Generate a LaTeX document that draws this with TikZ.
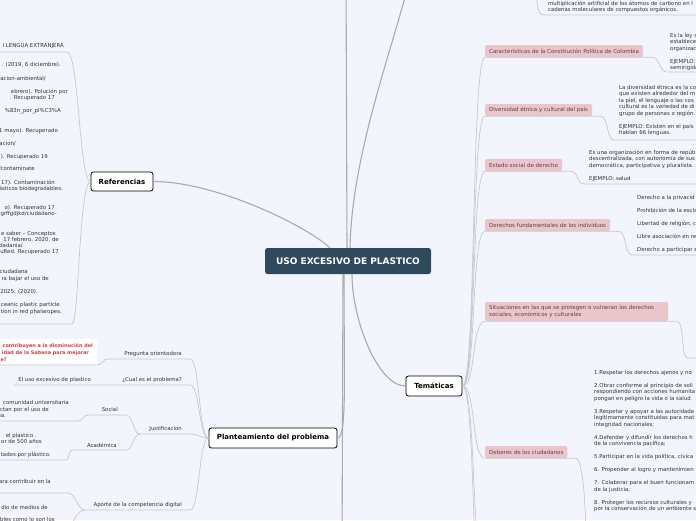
\documentclass[tikz,border=0pt]{standalone}
\usepackage{fontspec}
\setmainfont{DejaVu Sans}
\definecolor{BgBlue}{HTML}{F3F5FD}
\definecolor{MainFill}{HTML}{2F4A5C}
\definecolor{PinkFill}{HTML}{E8C6CC}
\definecolor{PinkText}{HTML}{6E3A40}
\definecolor{LineMain}{HTML}{ABABAB}
\definecolor{LineSub}{HTML}{C8C8CE}
\definecolor{TxtGray}{HTML}{333333}
\definecolor{QRed}{HTML}{D23B3B}

\begin{document}
\begin{tikzpicture}[x=1pt, y=-1pt,
	Main/.style={fill=MainFill, rounded corners=2.5pt, text=white,
		font=\fontsize{9}{11}\selectfont\bfseries, minimum width=166pt,
		minimum height=26pt, inner sep=0pt},
	Topic/.style={draw=black, fill=white, line width=0.8pt, rounded corners=2.5pt,
		font=\fontsize{7}{8}\selectfont\bfseries, minimum height=20pt, inner sep=0pt},
	Pink/.style={fill=PinkFill, rounded corners=1.5pt, text=PinkText,
		font=\fontsize{5.5}{6.5}\selectfont, minimum height=12pt, inner xsep=4pt,
		inner ysep=0pt, anchor=west, align=left},
	Txt/.style={text=TxtGray, font=\fontsize{5.4}{6.5}\selectfont, inner sep=0pt, align=left},
	Frag/.style={Txt, anchor=base east},
	Block/.style={Txt, anchor=north west},
	QTxt/.style={Frag, text=QRed, font=\fontsize{4.9}{6.5}\selectfont\bfseries},
	Link/.style={draw=LineMain, line width=1.1pt},
	SubLink/.style={draw=LineSub, line width=0.7pt},
	]
	\useasboundingbox (0,0) rectangle (696,520);
	\clip (0,0) rectangle (696,520);
	\fill[BgBlue] (0,0) rectangle (696,520);
	
	% main topics
	\node [Main] (root) at (348,261) {USO EXCESIVO DE PLASTICO};
	\node [Topic, minimum width=62pt, minimum height=19pt] (ref) at (122,181.5) {Referencias};
	\node [Topic, minimum width=128pt] (plan) at (273,438) {Planteamiento del problema};
	\node [Topic, minimum width=56pt] (tem) at (434,386) {Temáticas};
	
	\coordinate (upA) at (346,-30);
	\coordinate (upB) at (412,-30);
	\coordinate (downA) at (342,560);
	
	\draw[Link] ([xshift=-18pt]root.north) .. controls (305,225) and (215,181.5) .. (ref.east);
	\draw[Link] ([xshift=-1pt]root.north) -- (upA);
	\draw[Link] ([xshift=2pt]root.north) .. controls (352,150) and (396,40) .. (upB);
	\draw[Link] ([xshift=-4pt]root.south) .. controls (344,380) and (347,438) .. (plan.east);
	\draw[Link] ([xshift=-5pt]root.south) -- (downA);
	\draw[Link] ([xshift=4pt]root.south) .. controls (352,320) and (378,386) .. (tem.west);
	
	% Referencias
	\coordinate (refT) at (67,52);
	\coordinate (refTL) at (-5,52);
	\coordinate (refB) at (72,324);
	\coordinate (refBL) at (-5,324);
	\draw[SubLink] (ref.west) .. controls (79,181.5) and (79,52) .. (refT) -- (refTL);
	\draw[SubLink] (ref.west) .. controls (79,181.5) and (79,324) .. (refB) -- (refBL);
	
	\node [Frag] (r1) at (64,47) {I LENGUA EXTRANJERA};
	\node [Frag] (r2) at (61,66) {. (2019, 6 diciembre).};
	\node [Frag] (r3) at (46,80) {acion-ambiental/};
	\node [Frag] (r4) at (68,93) {ebrero). Polución por};
	\node [Frag] (r5) at (55,99) {. Recuperado 17};
	\node [Frag] (r6) at (61,112) {\%83n\_por\_pl\%C3\%A};
	\node [Frag] (r7) at (58,132) {1 mayo). Recuperado};
	\node [Frag] (r8) at (16,145) {acion/};
	\node [Frag] (r9) at (48,158) {). Recuperado 19};
	\node [Frag] (r10) at (35,170) {/contaminate};
	\node [Frag] (r11) at (55,184) {17). Contaminación};
	\node [Frag] (r12) at (63,190) {ásticos biodegradables.};
	\node [Frag] (r13) at (55,209) {o). Recuperado 17};
	\node [Frag] (r14) at (57,215) {grffgdjkd/ciudadano-};
	\node [Frag] (r15) at (56,235) {e saber – Conceptos};
	\node [Frag] (r16) at (59,241) {17 febrero, 2020, de};
	\node [Frag] (r17) at (23,247) {dadania/};
	\node [Frag] (r18) at (59,253) {cuRed. Recuperado 17};
	\node [Frag] (r19) at (28,273) {3n\_ciudadana};
	\node [Frag] (r20) at (49,280) {ra bajar el uso de};
	\node [Frag] (r21) at (38,293) {2025. (2020).};
	\node [Frag] (r22) at (60,306) {ceanic plastic particle};
	\node [Frag] (r23) at (62,313) {tion in red phalaropes.};
	
	% Planteamiento del problema
	\node [Frag] (preg) at (182,355) {Pregunta orientadora};
	\node [Frag] (prob) at (182,381) {¿Cual es el problema?};
	\node [Frag] (probc) at (91,381) {El uso excesivo de plastico};
	\node [Frag] (just) at (182,430) {Justificacion};
	\node [Frag] (soc) at (118,411) {Social};
	\node [Frag] (acad) at (117,447) {Académica};
	\node [Frag] (apor) at (182,506) {Aporte de la competencia digital};
	
	\node [fill=white, inner sep=0pt, minimum width=110pt, minimum height=26pt,
	anchor=north east] (pregq) at (97,339) {};
	\node [QTxt] (q1) at (93,347) {contribuyen a la disminución del};
	\node [QTxt] (q2) at (89,354) {idad de la Sabana para mejorar};
	\node [QTxt] (q3) at (7,361) {e?};
	
	\node [Frag] (s1) at (69,404) {comunidad universitaria};
	\node [Frag] (s2) at (49,411) {ctan por el uso de};
	\node [Frag] (s3) at (6,417) {ia.};
	
	\node [Frag] (a1) at (37,437) {el plastico .};
	\node [Frag] (a2) at (42,443) {or de 500 años};
	\node [Frag] (a3) at (51,456) {tados por plástico.};
	
	\node [Frag] (p1) at (51,483) {ara contribuir en la};
	\node [Frag] (p2) at (48,509) {dio de medios de};
	\node [Frag] (p3) at (55,521) {bles como lo son los};
	
	\coordinate (pregE) at (190,359);
	\coordinate (pregW) at (108,359);
	\coordinate (pregQE) at (97,365);
	\coordinate (pregQL) at (-5,365);
	\coordinate (probE) at (190,385);
	\coordinate (probL) at (13,385);
	\coordinate (justE) at (190,434);
	\coordinate (justW) at (140,434);
	\coordinate (socE) at (126,415);
	\coordinate (socW) at (88,415);
	\coordinate (socC) at (78,421);
	\coordinate (socL) at (-5,421);
	\coordinate (acadE) at (126,450);
	\coordinate (acadW) at (72,450);
	\coordinate (acadC) at (66,460);
	\coordinate (acadL) at (-5,460);
	\coordinate (aporE) at (190,510);
	\coordinate (aporW) at (85,510);
	\coordinate (aporT) at (68,493);
	\coordinate (aporTL) at (-5,493);
	\coordinate (aporB) at (70,535);
	
	\draw[SubLink] (plan.west) .. controls +(-10,0) and +(10,0) .. (pregE) -- (pregW)
	.. controls +(-6,0) and +(6,0) .. (pregQE) -- (pregQL);
	\draw[SubLink] (plan.west) .. controls +(-10,0) and +(10,0) .. (probE) -- (probL);
	\draw[SubLink] (plan.west) .. controls +(-10,0) and +(10,0) .. (justE) -- (justW);
	\draw[SubLink] (justW) .. controls +(-7,0) and +(7,0) .. (socE) -- (socW)
	.. controls +(-5,0) and +(5,0) .. (socC) -- (socL);
	\draw[SubLink] (justW) .. controls +(-7,0) and +(7,0) .. (acadE) -- (acadW)
	.. controls +(-4,0) and +(4,0) .. (acadC) -- (acadL);
	\draw[SubLink] (plan.west) .. controls +(-10,0) and +(10,0) .. (aporE) -- (aporW);
	\draw[SubLink] (aporW) .. controls +(-8,0) and +(8,0) .. (aporT) -- (aporTL);
	\draw[SubLink] (aporW) .. controls +(-8,0) and +(0,-10) .. (aporB);
	
	% Tematicas
	\node [Pink] (car) at (485,51) {Características de la Constitución Política de Colombia};
	\node [Pink] (div) at (485,110) {Diversidad étnica y cultural del país};
	\node [Pink] (est) at (485,165) {Estado social de derecho};
	\node [Pink] (der) at (485,225) {Derechos fundamentales de los individuos};
	\node [Pink, text width=175pt, minimum height=19pt] (sit) at (485,311.5)
	{Situaciones en las que se protegen o vulneran los derechos\\sociales, económicos y culturales};
	\node [Pink] (deb) at (485,452) {Deberes de los ciudadanos};
	
	\coordinate (temD1) at (485,570);
	\coordinate (temD2) at (485,640);
	\foreach \n in {car,div,est,der,sit,deb}
	\draw[SubLink] (tem.east) .. controls +(14,0) and +(-14,0) .. (\n.south west) -- (\n.south east);
	\draw[SubLink] (tem.east) .. controls +(14,0) and +(-14,0) .. (temD1);
	\draw[SubLink] (tem.east) .. controls +(14,0) and +(-14,0) .. (temD2);
	
	\node [Block] (topt) at (548,0.8) {multiplicación artificial de los átomos de carbono en l\\
		cadenas moleculares de compuestos orgánicos.};
	\node [Block] (cart) at (670,32.8) {Es la ley s\\establece\\organizac\\[6.5pt]EJEMPLO: \\semirigida};
	\node [Block] (divt) at (619,84.8) {La diversidad étnica es la co\\que existen alrededor del m\\
		la piel, el lenguaje o las cos\\cultural es la variedad de di\\grupo de personas o región.\\[6.5pt]
		EJEMPLO: Existen en el país\\hablan 66 lenguas.};
	\node [Block] (estt) at (589,149.8) {Es una organización en forma de repúb\\
		descentralizada, con autonomía de sus\\democrática, participativa y pluralista.\\[6.5pt]
		EJEMPLO: salud};
	\node [Block] (dert) at (637,194.8) {Derecho a la privacid\\[6.5pt]Prohibición de la escla\\[6.5pt]
		Libertad de religión, c\\[6.5pt]Libre asociación en re\\[6.5pt]Derecho a participar e};
	\node [Block] (debt) at (594,369.8) {1.Respetar los derechos ajenos y no\\[6.5pt]
		2.Obrar conforme al principio de soli\\respondiendo con acciones humanita\\
		pongan en peligro la vida o la salud\\[6.5pt]
		3.Respetar y apoyar a las autoridade\\legítimamente constituidas para mat\\
		integridad nacionales;\\[6.5pt]
		4.Defender y difundir los derechos h\\de la convivencia pacífica;\\[6.5pt]
		5.Participar en la vida política, cívica\\[6.5pt]
		6. Propender al logro y mantenimien\\[6.5pt]
		7. Colaborar para el buen funcionam\\de la justicia;\\[6.5pt]
		8. Proteger los recursos culturales y\\por la conservación de un ambiente s};
	
	\coordinate (topP) at (536,-15);
	\coordinate (topC) at (545,15);
	\coordinate (topR) at (700,15);
	\coordinate (carC) at (667,72);
	\coordinate (carR) at (700,72);
	\coordinate (divC) at (614,140);
	\coordinate (divR) at (700,140);
	\coordinate (estC) at (584,184);
	\coordinate (estR) at (700,184);
	\coordinate (derC) at (632,255);
	\coordinate (derR) at (700,255);
	\coordinate (sitC) at (688,358);
	\coordinate (sitR) at (700,358);
	\coordinate (debC) at (586,545);
	
	\draw[SubLink] (topP) .. controls (537,10) and (538,15) .. (topC) -- (topR);
	\draw[SubLink] (car.south east) -- ++(8,0) .. controls +(9,0) and +(-8,0) .. (carC) -- (carR);
	\draw[SubLink] (div.south east) -- ++(8,0) .. controls +(9,0) and +(-8,0) .. (divC) -- (divR);
	\draw[SubLink] (est.south east) -- ++(8,0) .. controls +(9,0) and +(-8,0) .. (estC) -- (estR);
	\draw[SubLink] (der.south east) -- ++(8,0) .. controls +(9,0) and +(-8,0) .. (derC) -- (derR);
	\draw[SubLink] (sit.south east) -- ++(8,0) .. controls +(9,0) and +(-8,0) .. (sitC) -- (sitR);
	\draw[SubLink] (deb.south east) -- ++(8,0) .. controls +(8,0) and +(0,-30) .. (debC);
\end{tikzpicture}
\end{document}
